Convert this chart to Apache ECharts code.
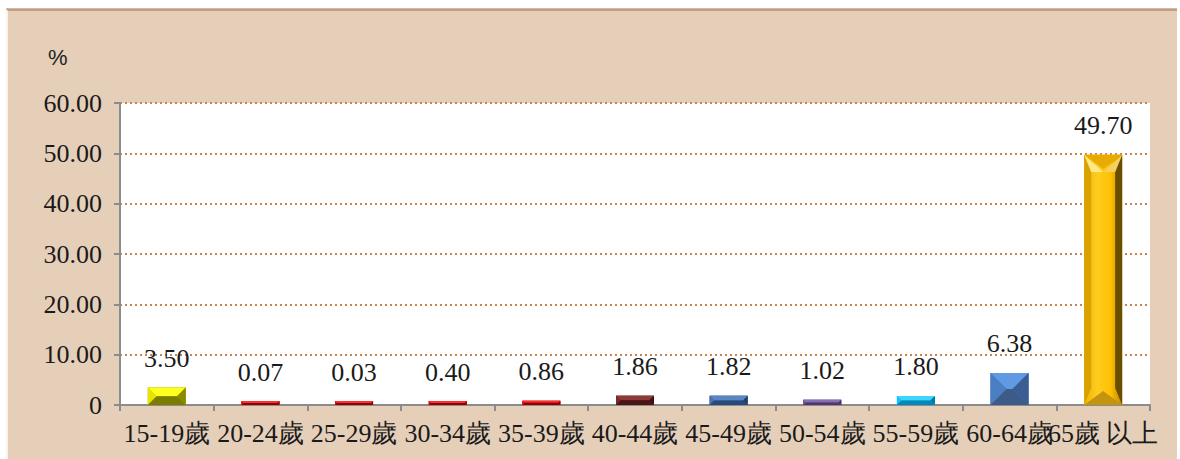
<!DOCTYPE html>
<html>
<head>
<meta charset="utf-8">
<script src="https://cdn.jsdelivr.net/npm/echarts@6/dist/echarts.min.js"></script>
<style>
  html, body { margin: 0; padding: 0; background: #ffffff; width: 1180px; height: 459px; overflow: hidden; }
  #frame { position: absolute; left: 6px; top: 9px; width: 1169px; height: 450px; background: #E6CFB9;
           border-top: 2px solid #CF9A72; border-left: 2px solid #FBF3EA; box-shadow: 0 -1px 0 #BDBDBD; }
  #chart { position: absolute; left: 0; top: 0; width: 1180px; height: 459px; }
</style>
</head>
<body>
<div id="frame"></div>
<div id="chart"></div>
<script>
// ---- data ----
const categories = ['15-19歲', '20-24歲', '25-29歲', '30-34歲', '35-39歲', '40-44歲', '45-49歲', '50-54歲', '55-59歲', '60-64歲', '65歲 以上'];
const values = [3.50, 0.07, 0.03, 0.40, 0.86, 1.86, 1.82, 1.02, 1.80, 6.38, 49.70];
const yTicks = [0, 10, 20, 30, 40, 50, 60];

// ---- styles (face colours per bar: center, top, left, right, bottom) ----
const faces = [
  ['#B4B400', '#FFFF20', '#E4E400', '#8A8A00', '#7C7C00'],
  ['#E00000', '#FF3030', '#E81010', '#A00000', '#900000'],
  ['#E00000', '#FF3030', '#E81010', '#A00000', '#900000'],
  ['#E00000', '#FF3030', '#E81010', '#A00000', '#900000'],
  ['#E00000', '#FF3030', '#E81010', '#A00000', '#900000'],
  ['#6A2222', '#8C3A3A', '#7A2A2A', '#3E1010', '#4A1616'],
  ['#3A64A0', '#5C86C2', '#4672AE', '#223E68', '#284A78'],
  ['#6A4E90', '#8A70B0', '#7658A0', '#45305F', '#4E386C'],
  ['#00B8F0', '#40D4FF', '#10C4FA', '#0078A8', '#0088B8'],
  ['#4A78B4', '#609AE2', '#4A7FC4', '#3A5E94', '#3E5A88'],
  ['#FFC000', '#E8AC00', '#D9A200', '#6A4E00', '#C29410']
];
const fontFam = 'Liberation Serif';
const fontSize = 26;

const chart = echarts.init(document.getElementById('chart'), null, { renderer: 'svg' });

function renderBevel(params, api) {
  const idx = api.value(0);
  const v = api.value(1);
  const top = api.coord([idx, v]);
  const base = api.coord([idx, 0]);
  const w = api.size([1, 0])[0] * 0.405;
  const cx = top[0];
  const x0 = cx - w / 2, x1 = cx + w / 2;
  const y1 = base[1];
  const h = Math.max(y1 - top[1], 4);
  const y0 = y1 - h;
  const f = faces[idx];
  const children = [];
  if (h > w) {
    const dx = 7, d = w * 0.45;
    const grad = new echarts.graphic.LinearGradient(0, 0, 1, 0, [
      { offset: 0, color: '#F0B400' }, { offset: 0.35, color: '#FFCC20' },
      { offset: 0.7, color: '#FFC000' }, { offset: 1, color: '#B88A00' }
    ]);
    children.push({ type: 'rect', shape: { x: x0, y: y0, width: w, height: h }, style: { fill: grad } });
    children.push({ type: 'polygon', shape: { points: [[x0, y0], [x0 + dx, y0 + d], [x0 + dx, y1 - d], [x0, y1]] }, style: { fill: f[2] } });
    children.push({ type: 'polygon', shape: { points: [[x1, y0], [x1, y1], [x1 - dx, y1 - d], [x1 - dx, y0 + d]] }, style: { fill: f[3] } });
    children.push({ type: 'polygon', shape: { points: [[x0, y0], [cx, y0 + d], [x0 + dx, y0 + d]] }, style: { fill: '#FFE88A' } });
    children.push({ type: 'polygon', shape: { points: [[x1, y0], [x1 - dx, y0 + d], [cx, y0 + d]] }, style: { fill: '#F4D060' } });
    children.push({ type: 'polygon', shape: { points: [[x0, y0], [x1, y0], [cx, y0 + d - 3]] }, style: { fill: f[1] } });
    children.push({ type: 'polygon', shape: { points: [[x0, y1], [cx, y1 - d + 3], [x1, y1]] }, style: { fill: f[4] } });
    return { type: 'group', children: children };
  }
  const dy = Math.min(h / 2, w / 2);
  const dx = Math.min(h / 2, w / 2);
  const ix0 = x0 + dx, ix1 = x1 - dx, iy0 = y0 + dy, iy1 = y1 - dy;
  children.push({ type: 'rect', shape: { x: x0, y: y0, width: w, height: h }, style: { fill: f[0] } });
  children.push({ type: 'polygon', shape: { points: [[x0, y0], [x1, y0], [ix1, iy0], [ix0, iy0]] }, style: { fill: f[1] } });
  children.push({ type: 'polygon', shape: { points: [[x0, y0], [ix0, iy0], [ix0, iy1], [x0, y1]] }, style: { fill: f[2] } });
  children.push({ type: 'polygon', shape: { points: [[x1, y0], [x1, y1], [ix1, iy1], [ix1, iy0]] }, style: { fill: f[3] } });
  children.push({ type: 'polygon', shape: { points: [[x0, y1], [ix0, iy1], [ix1, iy1], [x1, y1]] }, style: { fill: f[4] } });
  return { type: 'group', children: children };
}

chart.setOption({
  backgroundColor: 'transparent',
  animation: false,
  grid: { left: 120, width: 1030, top: 103, height: 302, show: true, backgroundColor: '#ffffff', borderWidth: 0 },
  graphic: [{ type: 'text', left: 48, top: 46, style: { text: '%', fontSize: 22, fontFamily: 'Liberation Sans', fill: '#222' } }],
  xAxis: {
    type: 'category',
    data: categories,
    axisLine: { lineStyle: { color: '#8C8C8C', width: 2 } },
    axisTick: { show: true, length: 6, lineStyle: { color: '#8C8C8C', width: 2 } },
    axisLabel: { interval: 0, margin: 15, color: '#1A1A1A', fontSize: fontSize, fontFamily: fontFam }
  },
  yAxis: {
    type: 'value',
    min: yTicks[0], max: yTicks[yTicks.length - 1], interval: yTicks[1] - yTicks[0],
    axisLine: { show: true, lineStyle: { color: '#8C8C8C', width: 2 } },
    axisTick: { show: true, length: 6, lineStyle: { color: '#8C8C8C', width: 2 } },
    axisLabel: { margin: 18, color: '#1A1A1A', fontSize: fontSize, fontFamily: fontFam,
      formatter: v => v === 0 ? '0' : v.toFixed(2) },
    splitLine: { show: true, lineStyle: { color: '#C8844E', width: 2, type: [2, 3] } }
  },
  series: [
    {
      type: 'bar',
      data: values.map((v, i) => ({ value: v, itemStyle: { color: faces[i][0] } })),
      barWidth: '40.5%',
      barMinHeight: 4,
      label: { show: true, position: 'top', distance: 16, color: '#1A1A1A', fontSize: fontSize, fontFamily: fontFam,
        formatter: p => p.value.toFixed(2) },
      z: 2
    },
    {
      type: 'custom',
      renderItem: renderBevel,
      data: values.map((v, i) => [i, v]),
      encode: { x: 0, y: 1 },
      silent: true,
      z: 3
    }
  ]
});
</script>
</body>
</html>
